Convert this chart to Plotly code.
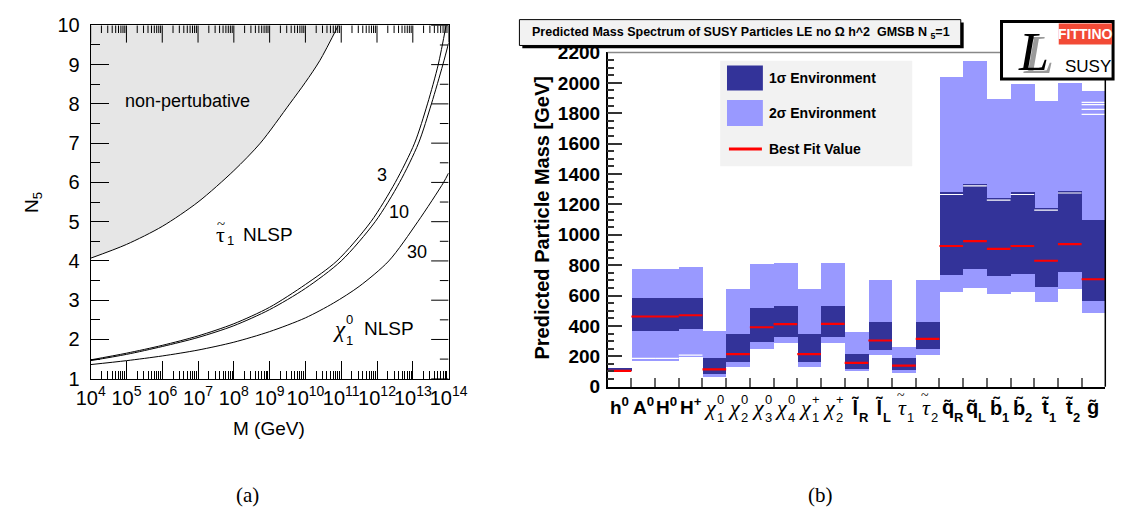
import plotly.graph_objects as go

W, H = 1134, 519
def PX(x): return x / W
def PY(y): return 1 - y / H

# ---------------- panel (a) data ----------------
nonpert_logM = [4, 5, 6, 7, 8, 8.74, 9.56, 10.0, 10.4, 10.92]
nonpert_N5 = [4.07, 4.42, 4.88, 5.5, 6.3, 7.0, 8.0, 8.55, 9.1, 10.0]
tb3_logM = [4, 5, 6, 7, 8, 9, 10, 10.88, 11.83, 12.51, 13.05, 13.41, 13.71, 13.93]
tb3_N5 = [1.48, 1.65, 1.85, 2.09, 2.4, 2.82, 3.4, 4.0, 5.0, 6.0, 7.0, 8.0, 9.0, 10.0]
tb10_logM = [4, 5, 6, 7, 8, 9, 10, 11.0, 11.95, 12.63, 13.16, 13.52, 13.84, 14.0]
tb10_N5 = [1.46, 1.62, 1.82, 2.05, 2.35, 2.76, 3.3, 4.0, 5.0, 6.0, 7.0, 8.0, 9.0, 9.55]
tb30_logM = [4, 5, 6, 7, 8, 9, 10, 10.79, 11.5, 12.33, 13.14, 13.86, 14.0]
tb30_N5 = [1.36, 1.46, 1.58, 1.73, 1.93, 2.2, 2.55, 2.93, 3.35, 4.0, 5.0, 6.0, 6.24]
xa_exponents = [4, 5, 6, 7, 8, 9, 10, 11, 12, 13, 14]
ya_ticks = [1, 2, 3, 4, 5, 6, 7, 8, 9, 10]
M_RANGE = [4, 14]
N5_RANGE = [1, 10]

# ---------------- panel (b) data ----------------
particles = ["h0", "A0", "H0", "H+", "chi10", "chi20", "chi30", "chi40", "chi1+", "chi2+",
             "lR", "lL", "tau1", "tau2", "qR", "qL", "b1", "b2", "t1", "t2", "g"]
labels_main = ["h", "A", "H", "H", "χ", "χ", "χ", "χ", "χ", "χ",
               "l\u0303", "l\u0303", "τ", "τ", "q\u0303", "q\u0303", "b\u0303", "b\u0303", "t\u0303", "t\u0303", "g\u0303"]
labels_sup = ["0", "0", "0", "+", "0", "0", "0", "0", "+", "+", "", "", "", "", "", "", "", "", "", "", ""]
labels_sub = ["", "", "", "", "1", "2", "3", "4", "1", "2", "R", "L", "1", "2", "R", "L", "1", "2", "1", "2", ""]
two_sigma_low = [98, 166, 166, 192, 58, 124, 248, 284, 124, 287, 98, 204, 90, 204, 619, 645, 607, 619, 553, 641, 479]
two_sigma_high = [121, 769, 769, 782, 366, 637, 807, 813, 637, 814, 355, 701, 260, 701, 2035, 2138, 1888, 1989, 1875, 1993, 1945]
one_sigma_low = [98, 361, 361, 376, 80, 158, 290, 324, 158, 323, 115, 241, 109, 248, 733, 771, 726, 739, 654, 753, 563]
one_sigma_high = [121, 582, 582, 582, 187, 341, 517, 530, 341, 531, 210, 424, 185, 424, 1277, 1333, 1237, 1277, 1170, 1286, 1097]
best_fit = [104, 462, 462, 470, 114, 214, 391, 412, 214, 413, 157, 304, 139, 315, 926, 958, 907, 926, 829, 938, 707]
white_lines = [[], [186], [186], [207], [], [], [], [], [], [], [], [], [], [], [1265], [1322], [1228], [1265], [1162], [1275],
               [1872, 1856, 1825, 1792]]
mass_ticks = list(range(0, 2201, 200))

DARK = "#333399"
LIGHT = "#9999ff"

# pixel geometry of panel (a)
A_X0, A_X1, A_Y0, A_Y1 = 78, 447, 15, 384
PX_PER_DECADE = (A_X1 - A_X0) / (M_RANGE[1] - M_RANGE[0])
PX_PER_UNIT = (A_Y1 - A_Y0) / (N5_RANGE[1] - N5_RANGE[0])

fig = go.Figure()

# ---- panel (a) ----
np_M = [10 ** e for e in nonpert_logM]
fig.add_trace(go.Scatter(
    x=np_M + [10 ** M_RANGE[0]], y=nonpert_N5 + [N5_RANGE[1]],
    fill="toself", fillcolor="#e6e6e6", line=dict(width=0), mode="lines",
    xaxis="x", yaxis="y", hoverinfo="skip", showlegend=False))
for lm, n5 in [(nonpert_logM, nonpert_N5), (tb3_logM, tb3_N5), (tb10_logM, tb10_N5), (tb30_logM, tb30_N5)]:
    fig.add_trace(go.Scatter(
        x=[10 ** e for e in lm], y=n5, mode="lines",
        line=dict(color="black", width=1, shape="spline", smoothing=0.8),
        xaxis="x", yaxis="y", showlegend=False))

# mirrored tick marks on the top and right frame of panel (a)
tx, ty = [], []
top = N5_RANGE[1]
for e in xa_exponents:
    tx += [10 ** e, 10 ** e, None]
    ty += [top, top - 18 / PX_PER_UNIT, None]
    if e < M_RANGE[1]:
        for k in range(2, 10):
            tx += [k * 10 ** e, k * 10 ** e, None]
            ty += [top, top - 8 / PX_PER_UNIT, None]
right = M_RANGE[1]
for n in ya_ticks:
    tx += [10 ** right, 10 ** (right - 18 / PX_PER_DECADE), None]
    ty += [n, n, None]
    if n < N5_RANGE[1]:
        tx += [10 ** right, 10 ** (right - 9 / PX_PER_DECADE), None]
        ty += [n + 0.5, n + 0.5, None]
fig.add_trace(go.Scatter(x=tx, y=ty, mode="lines", line=dict(color="black", width=1),
                         xaxis="x", yaxis="y", hoverinfo="skip", showlegend=False))

# ---- panel (b) ----
idx = list(range(len(particles)))
fig.add_trace(go.Bar(
    x=idx, y=[h - l for h, l in zip(two_sigma_high, two_sigma_low)], base=two_sigma_low,
    width=1, marker=dict(color=LIGHT, line=dict(width=0)), xaxis="x2", yaxis="y2", showlegend=False))
fig.add_trace(go.Bar(
    x=idx, y=[h - l for h, l in zip(one_sigma_high, one_sigma_low)], base=one_sigma_low,
    width=1, marker=dict(color=DARK, line=dict(width=0)), xaxis="x2", yaxis="y2", showlegend=False))

wx, wy = [], []
for i, vals in enumerate(white_lines):
    for v in vals:
        wx += [i - 0.5, i + 0.5, None]
        wy += [v, v, None]
fig.add_trace(go.Scatter(x=wx, y=wy, mode="lines", line=dict(color="white", width=1.2),
                         xaxis="x2", yaxis="y2", showlegend=False))
rx, ry = [], []
for i, v in enumerate(best_fit):
    rx += [i - 0.5, i + 0.5, None]
    ry += [v, v, None]
fig.add_trace(go.Scatter(x=rx, y=ry, mode="lines", line=dict(color="#ff0000", width=2.2),
                         xaxis="x2", yaxis="y2", showlegend=False))

annotations = []
shapes = []

def ann(x, y, text, size, family="Liberation Sans", color="black", xanchor="center", yanchor="middle",
        angle=0, xref="paper", yref="paper", xshift=0, bold=False):
    if bold:
        text = "<b>" + text + "</b>"
    annotations.append(dict(x=x, y=y, xref=xref, yref=yref, text=text, showarrow=False,
                            font=dict(size=size, family=family, color=color),
                            xanchor=xanchor, yanchor=yanchor, textangle=angle, xshift=xshift,
                            borderpad=0, borderwidth=0))

# panel (a) texts
ann(PX(178), PY(94), "non-pertubative", 18)
ann(PX(212), PY(233), "τ", 22, family="Liberation Serif")
ann(PX(212), PY(222), "~", 15, family="Liberation Serif")
ann(PX(219), PY(240), "1", 13, xanchor="left")
ann(PX(261), PY(233), "NLSP", 19)
ann(PX(378), PY(171), "3", 18)
ann(PX(396), PY(210), "10", 18)
ann(PX(414), PY(252), "30", 18)
ann(PX(341), PY(333), "<i>χ</i>", 23, family="Liberation Serif", xanchor="right")
ann(PX(341), PY(322), "0", 13, xanchor="left")
ann(PX(341), PY(344), "1", 13, xanchor="left")
ann(PX(386), PY(332), "NLSP", 19)
ann(PX(18), PY(200), "N<sub>5</sub>", 19, angle=-90)
ann(PX(262), PY(436), "M (GeV)", 19)
ann(PX(240), PY(505), "(a)", 21, family="Liberation Serif")
ann(PX(830), PY(505), "(b)", 21, family="Liberation Serif")

# panel (b) category labels
for i in idx:
    m, sp, sb = labels_main[i], labels_sup[i], labels_sub[i]
    if m in ("h", "A", "H"):
        ann(i, PY(413), "<b>" + m + "<sup>" + sp + "</sup></b>", 19, xref="x2")
        continue
    greek = m in ("χ", "τ")
    fam = "Liberation Serif" if greek else "Liberation Sans"
    txt = "<i>" + m + "</i>" if greek else "<b>" + m + "</b>"
    size = 22 if greek else 20
    if sb == "" and sp == "":
        ann(i, PY(414), txt, size, family=fam, xref="x2")
        continue
    ann(i, PY(414), txt, size, family=fam, xref="x2", xanchor="right", xshift=3)
    if m == "τ":
        ann(i, PY(401), "~", 14, family="Liberation Serif", xref="x2", xanchor="right", xshift=1)
    if sp:
        ann(i, PY(406), sp if greek else "<b>" + sp + "</b>", 13, xref="x2", xanchor="left", xshift=3)
    if sb:
        ann(i, PY(424), sb if greek else "<b>" + sb + "</b>", 13, xref="x2", xanchor="left", xshift=3)

ann(PX(543), PY(216), "Predicted Particle Mass [GeV]", 20, angle=-90, bold=True)

# title box
shapes.append(dict(type="rect", xref="paper", yref="paper", x0=PX(523), x1=PX(978), y0=PY(39), y1=PY(12),
                   fillcolor="black", line=dict(width=0)))
shapes.append(dict(type="rect", xref="paper", yref="paper", x0=PX(520), x1=PX(975), y0=PY(36), y1=PY(9),
                   fillcolor="#f2f2f2", line=dict(color="black", width=1)))
ann(PX(748), PY(23), "Predicted Mass Spectrum of SUSY Particles LE no Ω h^2  GMSB N <sub>5</sub>=1", 12.5, bold=True)

# legend
shapes.append(dict(type="rect", xref="paper", yref="paper", x0=PX(727), x1=PX(925), y0=PY(162), y1=PY(52),
                   fillcolor="#f2f2f2", line=dict(width=0)))
shapes.append(dict(type="rect", xref="paper", yref="paper", x0=PX(734), x1=PX(771), y0=PY(83), y1=PY(57),
                   fillcolor=DARK, line=dict(width=0)))
shapes.append(dict(type="rect", xref="paper", yref="paper", x0=PX(734), x1=PX(771), y0=PY(120), y1=PY(93),
                   fillcolor=LIGHT, line=dict(width=0)))
shapes.append(dict(type="line", xref="paper", yref="paper", x0=PX(736), x1=PX(770), y0=PY(144), y1=PY(144),
                   line=dict(color="#ff0000", width=3)))
ann(PX(777), PY(70), "1σ Environment", 14, xanchor="left", bold=True)
ann(PX(777), PY(107), "2σ Environment", 14, xanchor="left", bold=True)
ann(PX(777), PY(144), "Best Fit Value", 14, xanchor="left", bold=True)

# frame lines for panel (b)
shapes.append(dict(type="line", xref="x2 domain", yref="y2 domain", x0=0, x1=1, y0=1, y1=1,
                   line=dict(color="#888888", width=1.5)))
shapes.append(dict(type="line", xref="x2 domain", yref="y2 domain", x0=1, x1=1, y0=0, y1=1,
                   line=dict(color="black", width=1.5)))

# logo
shapes.append(dict(type="rect", xref="paper", yref="paper", x0=PX(1017), x1=PX(1132), y0=PY(71), y1=PY(11),
                   fillcolor="white", line=dict(color="black", width=3)))
shapes.append(dict(type="rect", xref="paper", yref="paper", x0=PX(1076), x1=PX(1131), y0=PY(35), y1=PY(13),
                   fillcolor="#f24a36", line=dict(width=0)))
ann(PX(1103.5), PY(24), "FITTINO", 14, color="white", bold=True)
ann(PX(1106), PY(58), "SUSY", 17)
ann(PX(1055), PY(46), "<i>L</i>", 54, family="Liberation Serif", color="#9a9a9a")
ann(PX(1050), PY(43), "<i>L</i>", 54, family="Liberation Serif", color="black")

fig.update_layout(
    width=W, height=H, autosize=False,
    margin=dict(l=0, r=0, t=0, b=0),
    paper_bgcolor="white", plot_bgcolor="white",
    barmode="overlay", bargap=0, showlegend=False,
    annotations=annotations, shapes=shapes,
    font=dict(family="Liberation Sans", color="black"),
    xaxis=dict(type="log", range=M_RANGE, domain=[PX(A_X0), PX(A_X1)], anchor="y",
               tickmode="array", tickvals=[10 ** e for e in xa_exponents],
               ticktext=["10<sup>%d</sup>" % e for e in xa_exponents], tickangle=0,
               ticks="inside", ticklen=18, tickcolor="black", tickwidth=1,
               minor=dict(ticks="inside", ticklen=8, dtick="D1", tickcolor="black", showgrid=False),
               showline=True, linecolor="black", linewidth=1, mirror=True,
               showgrid=False, zeroline=False, tickfont=dict(size=20), ticklabelstandoff=1),
    yaxis=dict(range=N5_RANGE, domain=[PY(A_Y1), PY(A_Y0)], anchor="x",
               tickmode="array", tickvals=ya_ticks, ticks="inside", ticklen=18, tickcolor="black",
               minor=dict(ticks="inside", ticklen=9, dtick=0.5, tickcolor="black", showgrid=False),
               showline=True, linecolor="black", linewidth=1, mirror=True,
               showgrid=False, zeroline=False, tickfont=dict(size=20), ticklabelstandoff=6),
    xaxis2=dict(range=[-0.5, len(particles) - 0.5], domain=[PX(611), PX(1124)], anchor="y2",
                tickmode="linear", tick0=-0.5, dtick=1, ticks="inside", ticklen=9, tickcolor="#666666",
                tickwidth=1.5, showticklabels=False, showline=True, linecolor="black", linewidth=1.5,
                showgrid=False, zeroline=False),
    yaxis2=dict(range=[mass_ticks[0], mass_ticks[-1]], domain=[PY(392.3), PY(43.3)], anchor="x2",
                tickmode="array", tickvals=mass_ticks, ticktext=[str(v) for v in mass_ticks],
                ticks="inside", ticklen=15, tickcolor="#333333", tickwidth=1.5,
                minor=dict(ticks="inside", ticklen=7, dtick=50, tickcolor="#333333", showgrid=False),
                showline=True, linecolor="black", linewidth=1.5, showgrid=False, zeroline=False,
                tickfont=dict(size=19, weight="bold"), ticklabelstandoff=2),
)

fig.write_html("out.html")
